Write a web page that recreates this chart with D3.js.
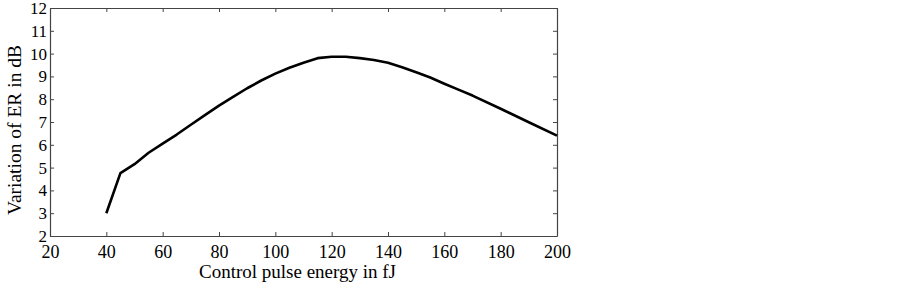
<!DOCTYPE html>
<html>
<head>
<meta charset="utf-8">
<script src="https://cdn.jsdelivr.net/npm/d3@7"></script>
<style>
  html, body { margin: 0; padding: 0; background: #fff; }
  svg { display: block; }
  .tick text { font-family: "Liberation Serif", "DejaVu Serif", serif; font-size: 18px; fill: #000; }
  .y-axis .tick text { font-size: 17px; }
</style>
</head>
<body>
<div id="chart"></div>
<script>
  // Control pulse energy (fJ)
  const energy = [40, 45, 50, 55, 60, 65, 70, 75, 80, 85, 90, 95, 100, 105, 110, 115, 120, 125, 130, 135, 140, 145, 150, 155, 160, 165, 170, 180, 190, 200];
  // Variation of ER (dB)
  const erVariation = [3.0, 4.76, 5.15, 5.65, 6.05, 6.45, 6.88, 7.3, 7.72, 8.1, 8.48, 8.82, 9.12, 9.38, 9.6, 9.8, 9.86, 9.86, 9.8, 9.72, 9.6, 9.4, 9.18, 8.95, 8.68, 8.42, 8.16, 7.58, 6.99, 6.4];
  const xTicks = [20, 40, 60, 80, 100, 120, 140, 160, 180, 200];
  const yTicks = [2, 3, 4, 5, 6, 7, 8, 9, 10, 11, 12];

  const width = 903, height = 282;
  const margin = { top: 8, right: 346, bottom: 46, left: 50 };
  const w = width - margin.left - margin.right;
  const h = height - margin.top - margin.bottom;

  const svg = d3.select('#chart').append('svg')
    .attr('width', width)
    .attr('height', height);

  const g = svg.append('g')
    .attr('transform', `translate(${margin.left},${margin.top})`);

  const x = d3.scaleLinear().domain([20, 200]).range([0, w]);
  const y = d3.scaleLinear().domain([2, 12]).range([h, 0]);

  const axisColor = '#444';

  // bottom axis with labels, ticks inward
  const xAxis = g.append('g')
    .attr('transform', `translate(0,${h})`)
    .call(d3.axisBottom(x).tickValues(xTicks).tickSizeInner(-4).tickSizeOuter(0).tickPadding(9));
  xAxis.selectAll('text').attr('dy', '0.71em');

  // left axis with labels
  g.append('g')
    .attr('class', 'y-axis')
    .call(d3.axisLeft(y).tickValues(yTicks).tickSizeInner(-4).tickSizeOuter(0).tickPadding(3));

  // top and right mirrored ticks
  g.append('g')
    .call(d3.axisTop(x).tickValues(xTicks).tickSizeInner(-4).tickSizeOuter(0).tickFormat(''));
  g.append('g')
    .attr('transform', `translate(${w},0)`)
    .call(d3.axisRight(y).tickValues(yTicks).tickSizeInner(-4).tickSizeOuter(0).tickFormat(''));

  g.selectAll('.domain').attr('stroke', axisColor).attr('stroke-width', 1.2);
  g.selectAll('.tick line').attr('stroke', axisColor);

  // curve (piecewise linear between sampled points)
  const line = d3.line()
    .x((d, i) => x(energy[i]))
    .y(d => y(d));

  g.append('path')
    .datum(erVariation)
    .attr('fill', 'none')
    .attr('stroke', '#000')
    .attr('stroke-width', 2.6)
    .attr('stroke-linejoin', 'round')
    .attr('d', line);

  // axis titles
  svg.append('text')
    .attr('x', margin.left + w / 2 - 6)
    .attr('y', 277.5)
    .attr('text-anchor', 'middle')
    .style('font-family', '"Liberation Serif", "DejaVu Serif", serif')
    .style('font-size', '19px')
    .text('Control pulse energy in fJ');

  svg.append('text')
    .attr('transform', `translate(21,${margin.top + h / 2 + 8}) rotate(-90)`)
    .attr('text-anchor', 'middle')
    .style('font-family', '"Liberation Serif", "DejaVu Serif", serif')
    .style('font-size', '19.5px')
    .text('Variation of ER in dB');
</script>
</body>
</html>
